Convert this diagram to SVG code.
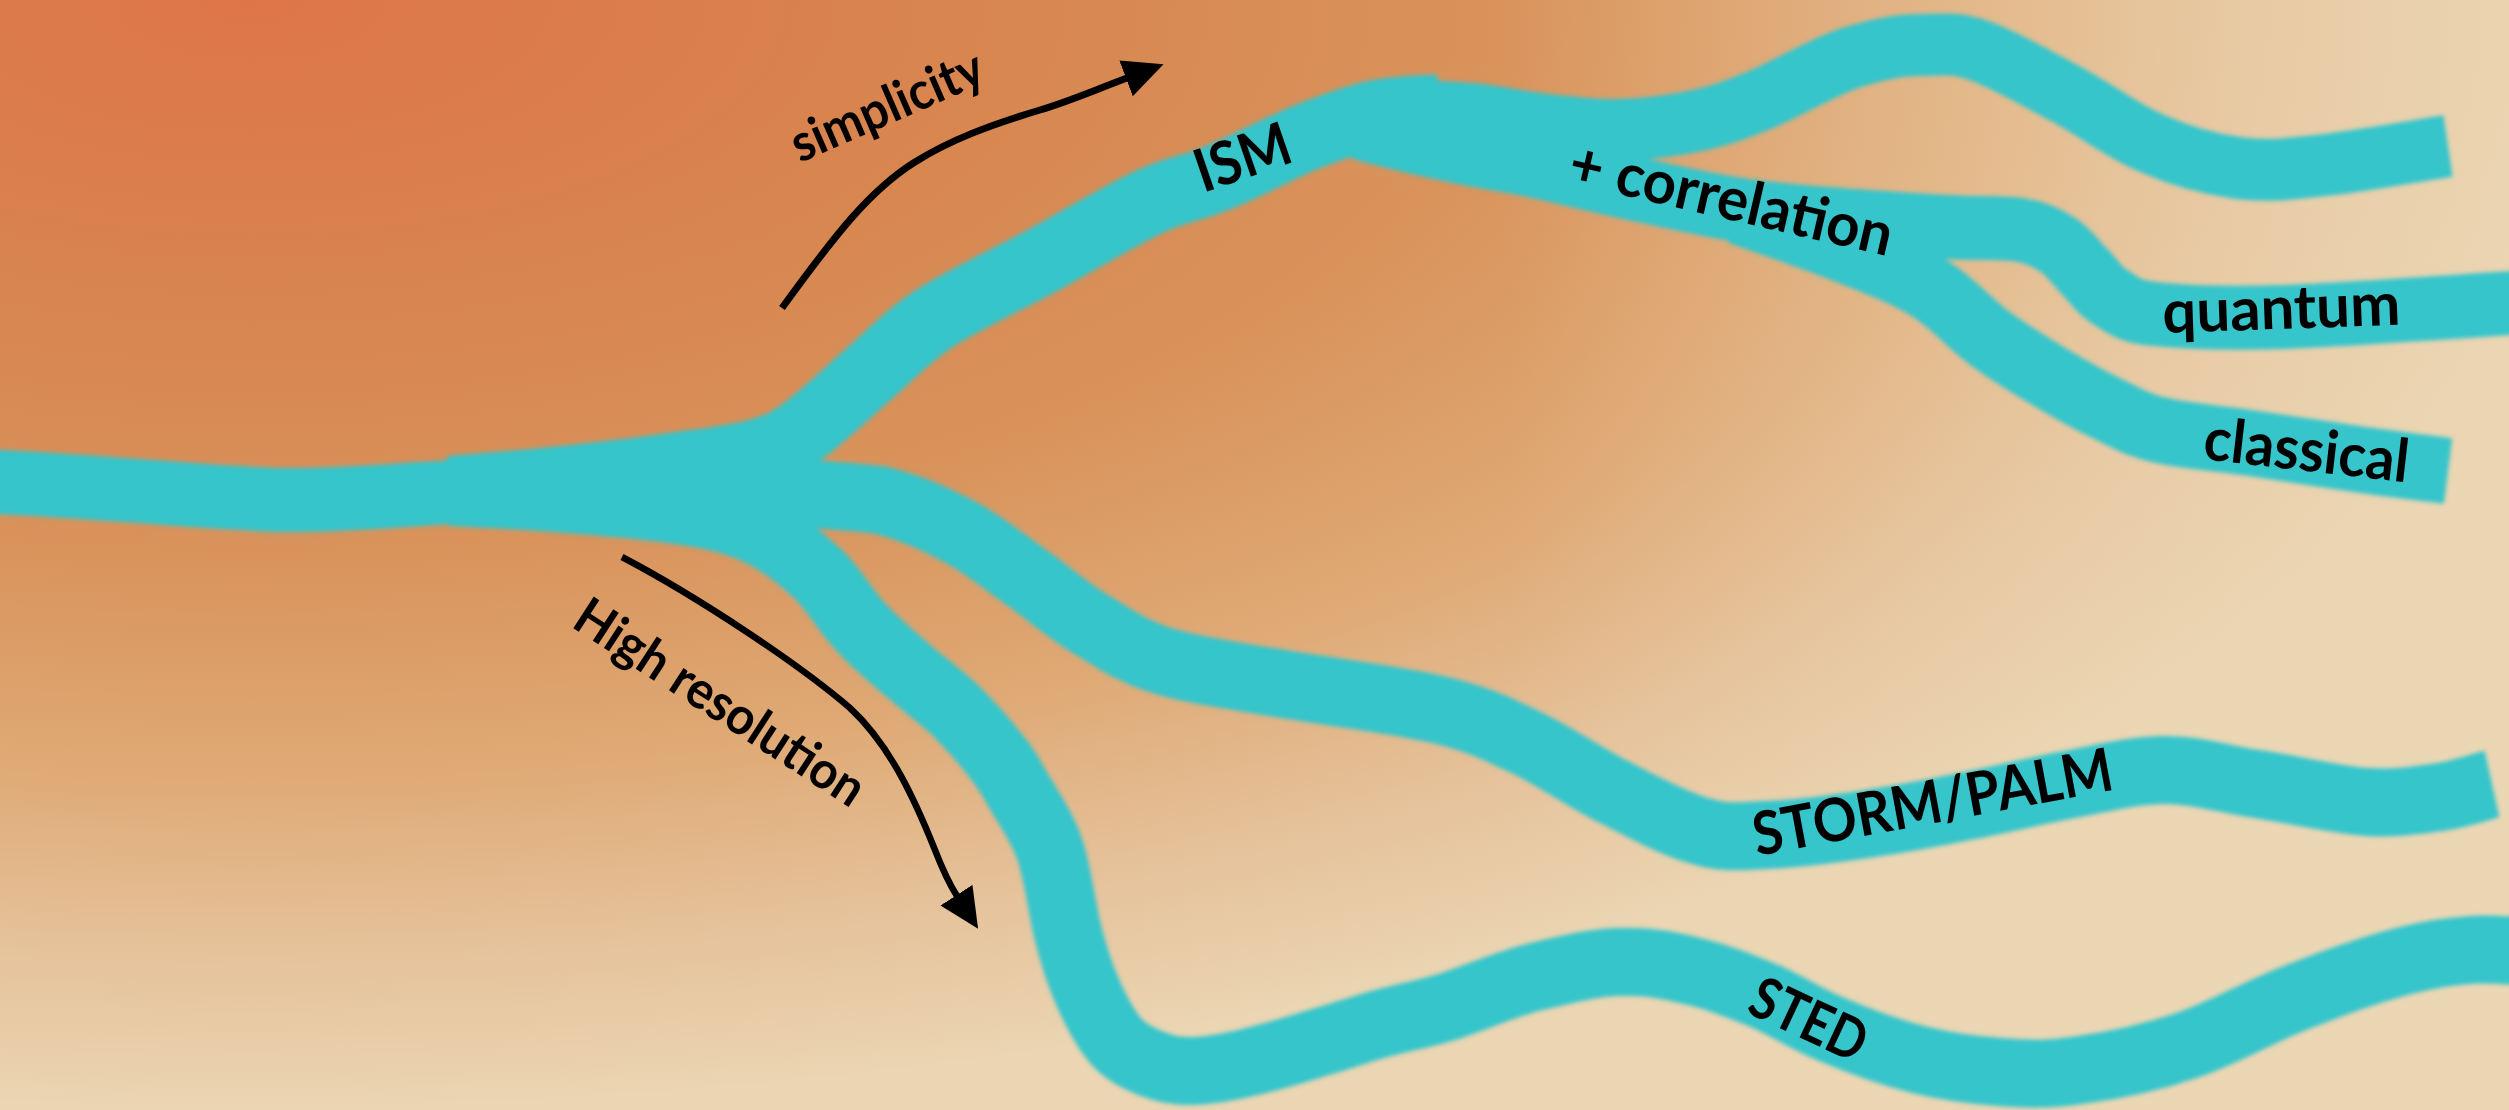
<svg xmlns="http://www.w3.org/2000/svg" width="2509" height="1110" viewBox="0 0 2509 1110">
  <defs>
    <radialGradient id="bg" cx="0.1" cy="0" r="1" fx="0.1" fy="0">
      <stop offset="0" stop-color="#de7548"/>
      <stop offset="0.28" stop-color="#d8854f"/>
      <stop offset="0.5" stop-color="#d9935b"/>
      <stop offset="0.7" stop-color="#dfaa76"/>
      <stop offset="0.85" stop-color="#e5c199"/>
      <stop offset="1" stop-color="#ebd5b2"/>
    </radialGradient>
    <linearGradient id="fade-right" x1="0" y1="0" x2="1" y2="0">
      <stop offset="0.6" stop-color="#ecd7b5" stop-opacity="0"/>
      <stop offset="1" stop-color="#ecd7b5" stop-opacity="0.75"/>
    </linearGradient>
    <filter id="soft" filterUnits="userSpaceOnUse" x="-100" y="-100" width="2709" height="1310">
      <feGaussianBlur stdDeviation="2"/>
    </filter>
    <marker id="head" markerUnits="userSpaceOnUse" viewBox="0 0 40 40" markerWidth="40" markerHeight="40" refX="1" refY="20" orient="auto">
      <path d="M0,1 L40,20 L0,39 Z" fill="#000"/>
    </marker>
    <style>
      .river { fill: none; stroke: #34c5cb; stroke-linecap: butt; stroke-linejoin: round; }
      .arrow { fill: none; stroke: #000; stroke-linecap: butt; marker-end: url(#head); }
      .label { font-family: Lato, "Open Sans", "Liberation Sans", sans-serif; font-weight: 700; fill: #000; }
    </style>
  </defs>

  <!-- warm backdrop -->
  <rect x="0" y="0" width="2509" height="1110" fill="url(#bg)"/>
  <rect x="0" y="0" width="2509" height="1110" fill="url(#fade-right)"/>

  <!-- river branches -->
  <g id="rivers" filter="url(#soft)">
    <path id="trunk" class="river" stroke-width="64" d="M-30,481 C80,484 200,498 280,500 C360,501 420,492 500,490 L740,488"/>
    <path id="branch-ism" class="river" stroke-width="68" d="M450,490 C472,488 538,483 580,478 C622,474 670,467 700,463 C730,459 743,457 760,452 C777,447 785,444 803,431 C821,418 848,392 870,373 C892,354 906,337 935,318 C965,299 1011,278 1047,258 C1083,238 1123,214 1151,201 C1179,188 1192,189 1217,178 C1243,168 1278,149 1304,138 C1330,128 1353,119 1376,114 C1399,109 1429,109 1440,108"/>
    <path id="branch-top" class="river" stroke-width="62" d="M1400,110 C1412,111 1447,112 1470,114 C1493,116 1515,121 1540,124 C1565,127 1593,131 1620,130 C1647,129 1677,125 1700,120 C1723,115 1735,110 1760,100 C1785,90 1823,67 1850,58 C1878,49 1903,44 1925,45 C1947,44 1957,43 1980,51 C2003,59 2036,78 2064,93 C2093,108 2122,131 2151,143 C2180,156 2209,164 2238,168 C2267,172 2290,169 2325,165 C2360,161 2428,149 2448,146"/>
    <path id="branch-quantum" class="river" stroke-width="64" d="M1360,128 C1375,132 1422,144 1452,150 C1482,157 1509,160 1540,167 C1571,174 1607,183 1640,190 C1673,197 1707,205 1740,210 C1773,215 1805,217 1840,220 C1875,223 1918,225 1948,227 C1978,229 2002,227 2020,230 C2038,233 2047,238 2058,245 C2069,252 2076,263 2085,272 C2094,281 2098,290 2110,297 C2122,304 2126,311 2155,314 C2184,317 2222,319 2283,317 C2344,315 2480,305 2540,301"/>
    <path id="branch-classical" class="river" stroke-width="66" d="M1740,212 C1758,219 1819,239 1850,252 C1882,265 1906,274 1929,288 C1952,302 1968,322 1988,337 C2008,352 2028,364 2048,376 C2068,388 2091,401 2110,410 C2129,419 2137,425 2160,430 C2183,436 2218,438 2250,443 C2282,448 2317,453 2350,458 C2383,463 2432,469 2448,471"/>
    <path id="branch-storm" class="river" stroke-width="68" d="M560,489 C640,489 800,490 880,500 C913,508 935,519 960,532 C985,545 1008,565 1030,580 C1052,596 1070,612 1092,625 C1114,638 1129,650 1160,660 C1191,670 1230,675 1277,683 C1324,691 1399,700 1440,710 C1481,720 1497,729 1525,742 C1553,755 1581,775 1610,790 C1639,805 1674,824 1700,831 C1726,839 1739,836 1767,835 C1795,834 1834,829 1867,824 C1900,819 1934,813 1967,806 C2000,800 2034,791 2067,785 C2100,779 2133,770 2165,770 C2197,770 2223,779 2257,784 C2291,789 2337,800 2367,802 C2397,804 2419,800 2440,797 C2461,794 2483,786 2492,784"/>
    <path id="branch-sted" class="river" stroke-width="68" d="M450,492 C472,493 540,497 580,500 C620,503 660,507 690,512 C720,517 739,522 760,532 C782,543 803,560 819,575 C836,592 845,610 859,625 C873,641 889,654 905,668 C921,682 940,696 955,710 C970,725 985,742 995,755 C1006,768 1009,774 1018,790 C1027,806 1042,826 1050,850 C1058,874 1062,909 1068,933 C1074,957 1080,975 1088,993 C1096,1011 1105,1028 1115,1040 C1125,1052 1138,1058 1150,1063 C1163,1068 1173,1071 1190,1071 C1207,1071 1229,1067 1250,1062 C1271,1057 1295,1050 1317,1043 C1339,1037 1361,1029 1383,1023 C1405,1017 1425,1014 1450,1006 C1475,998 1506,984 1535,977 C1564,970 1598,961 1625,962 C1652,961 1676,967 1700,973 C1724,979 1745,988 1767,997 C1789,1007 1808,1020 1833,1030 C1859,1041 1892,1053 1920,1060 C1948,1067 1973,1070 2000,1072 C2027,1074 2049,1075 2080,1070 C2111,1066 2153,1057 2188,1045 C2223,1033 2255,1014 2290,1000 C2325,986 2370,970 2400,962 C2430,954 2448,952 2470,950 C2492,948 2520,952 2540,952"/>
  </g>

  <!-- trend arrows -->
  <g id="connectors">
    <path id="arrow-simplicity" class="arrow" stroke-width="7" d="M782,308 C835,235 870,190 915,162 C950,140 990,125 1040,110 C1070,101 1095,90 1127,78"/>
    <path id="arrow-resolution" class="arrow" stroke-width="6.5" d="M622,557 C700,598 800,665 850,708 C890,745 915,800 935,850 C942,868 948,882 957,896"/>
  </g>

  <!-- labels -->
  <g id="label-simplicity"><text class="label" font-size="52" x="800" y="163" textLength="205" lengthAdjust="spacingAndGlyphs" transform="rotate(-23.5 800 163)">simplicity</text></g>
  <g id="label-resolution"><text class="label" font-size="52" x="570" y="626" textLength="335" lengthAdjust="spacingAndGlyphs" transform="rotate(33 570 626)">High resolution</text></g>
  <g id="label-ism"><text class="label" font-size="60" x="1203" y="193" textLength="98" lengthAdjust="spacingAndGlyphs" transform="rotate(-19 1203 193)">ISM</text></g>
  <g id="label-correlation"><text class="label" font-size="60" x="1566" y="182" textLength="330" lengthAdjust="spacingAndGlyphs" transform="rotate(13 1566 182)">+ correlation</text></g>
  <g id="label-quantum"><text class="label" font-size="60" x="2163" y="333" textLength="238" lengthAdjust="spacingAndGlyphs" transform="rotate(-2 2163 333)">quantum</text></g>
  <g id="label-classical"><text class="label" font-size="60" x="2202" y="459" textLength="206" lengthAdjust="spacingAndGlyphs" transform="rotate(6.5 2202 459)">classical</text></g>
  <g id="label-storm"><text class="label" font-size="60" x="1757" y="856" textLength="365" lengthAdjust="spacingAndGlyphs" transform="rotate(-10.5 1757 856)">STORM/PALM</text></g>
  <g id="label-sted"><text class="label" font-size="58" x="1745" y="1012" textLength="122" lengthAdjust="spacingAndGlyphs" transform="rotate(25 1745 1012)">STED</text></g>
</svg>
